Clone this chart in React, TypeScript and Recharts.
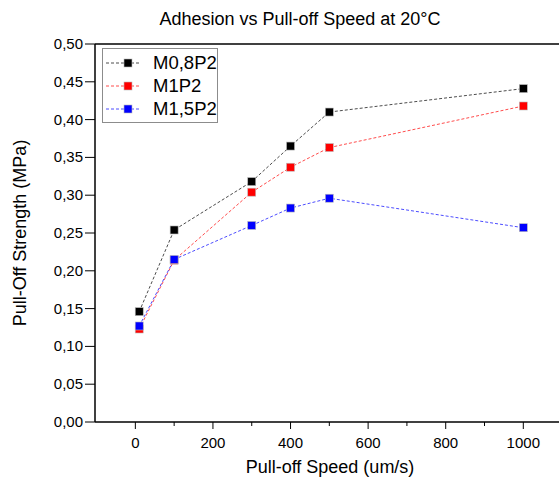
import React from 'react';
import { LineChart, Line, XAxis, YAxis, ReferenceLine } from 'recharts';

const speeds = [10, 100, 300, 400, 500, 1000];
const m08p2 = [0.146, 0.254, 0.318, 0.365, 0.41, 0.441];
const m1p2 = [0.123, 0.214, 0.304, 0.337, 0.363, 0.418];
const m15p2 = [0.127, 0.215, 0.26, 0.283, 0.296, 0.257];

const seriesNames = ['M0,8P2', 'M1P2', 'M1,5P2'];
const seriesKeys = ['m08p2', 'm1p2', 'm15p2'];
const seriesColors = ['#000000', '#ff0000', '#0000ff'];

const xTicks = [0, 100, 200, 300, 400, 500, 600, 700, 800, 900, 1000];
const xMajorTicks = [0, 200, 400, 600, 800, 1000];
const yTicks = [
  0, 0.025, 0.05, 0.075, 0.1, 0.125, 0.15, 0.175, 0.2, 0.225, 0.25,
  0.275, 0.3, 0.325, 0.35, 0.375, 0.4, 0.425, 0.45, 0.475, 0.5,
];
const yMajorTicks = [0, 0.05, 0.1, 0.15, 0.2, 0.25, 0.3, 0.35, 0.4, 0.45, 0.5];

const data = speeds.map((s, i) => ({
  speed: s,
  m08p2: m08p2[i],
  m1p2: m1p2[i],
  m15p2: m15p2[i],
}));

const FONT = '"Liberation Sans", Arial, sans-serif';

const fmtY = (v: number) => v.toFixed(2).replace('.', ',');

function YTick(props: any) {
  const { x, y, payload } = props;
  const major = yMajorTicks.some((t) => Math.abs(t - payload.value) < 1e-6);
  return (
    <g>
      <line x1={x - (major ? 10 : 5)} x2={x} y1={y} y2={y} stroke="#000" strokeWidth={1} />
      {major && (
        <text x={x - 12} y={y + 5} textAnchor="end" fontSize={15} fontFamily={FONT} fill="#000">
          {fmtY(payload.value)}
        </text>
      )}
    </g>
  );
}

function XTick(props: any) {
  const { x, y, payload } = props;
  const major = xMajorTicks.includes(payload.value);
  return (
    <g>
      <line x1={x} x2={x} y1={y} y2={y + (major ? 7 : 4)} stroke="#000" strokeWidth={1} />
      {major && (
        <text x={x} y={y + 26} textAnchor="middle" fontSize={15} fontFamily={FONT} fill="#000">
          {payload.value}
        </text>
      )}
    </g>
  );
}

function SquareDot(color: string) {
  return (props: any) => {
    const { cx, cy, index } = props;
    if (cx == null || cy == null) return null;
    return (
      <rect
        key={index}
        x={cx - 4}
        y={cy - 4}
        width={8}
        height={8}
        fill={color}
        stroke="#bbbbbb"
        strokeWidth={0.6}
      />
    );
  };
}

function LegendBox() {
  return (
    <div
      style={{
        position: 'absolute',
        left: 102,
        top: 48,
        border: '1px solid #8c8c8c',
        background: '#fff',
        width: 114,
        padding: '2px 0',
        fontFamily: FONT,
      }}
    >
      {seriesNames.map((name, i) => (
        <div key={name} style={{ display: 'flex', alignItems: 'center', height: 23 }}>
          <svg width={48} height={12} style={{ marginLeft: 2 }}>
            <line x1={1} x2={35} y1={6} y2={6} stroke={seriesColors[i]} strokeOpacity={0.7} strokeDasharray="3 2" />
            <rect x={19} y={2} width={8} height={8} fill={seriesColors[i]} stroke="#bbbbbb" strokeWidth={0.6} />
          </svg>
          <span style={{ fontSize: 18.5, color: '#000', lineHeight: '18px' }}>{name}</span>
        </div>
      ))}
    </div>
  );
}

export default function App() {
  return (
    <div style={{ position: 'absolute', left: 0, top: 0, width: 559, height: 479, overflow: 'hidden', background: '#fff' }}>
      <div
        style={{
          position: 'absolute',
          top: 9,
          left: 0,
          width: 600,
          textAlign: 'center',
          fontFamily: FONT,
          fontSize: 18,
          color: '#000',
        }}
      >
        Adhesion vs Pull-off Speed at 20°C
      </div>
      <LineChart
        width={559}
        height={479}
        data={data}
        margin={{ top: 44, right: 0, bottom: 0, left: 0 }}
      >
        <XAxis
          dataKey="speed"
          type="number"
          domain={[-104, 1092]}
          ticks={xTicks}
          allowDataOverflow
          height={57}
          tickSize={0}
          tickMargin={0}
          tickLine={false}
          tick={<XTick />}
          axisLine={{ stroke: '#000', strokeWidth: 1.5 }}
          label={{
            value: 'Pull-off Speed (um/s)',
            position: 'insideBottom',
            offset: 6,
            dx: 3,
            style: { fontFamily: FONT, fontSize: 18, fill: '#000', textAnchor: 'middle' },
          }}
        />
        <YAxis
          type="number"
          domain={[0, 0.5]}
          ticks={yTicks}
          width={95}
          tickSize={0}
          tickMargin={0}
          tickLine={false}
          tick={<YTick />}
          axisLine={{ stroke: '#000', strokeWidth: 1.5 }}
          label={{
            value: 'Pull-Off Strength (MPa)',
            angle: -90,
            position: 'insideLeft',
            offset: 20,
            style: { fontFamily: FONT, fontSize: 18, fill: '#000', textAnchor: 'middle' },
          }}
        />
        <ReferenceLine y={0.5} stroke="#000" strokeWidth={1.5} />
        {seriesKeys.map((k, i) => (
          <Line
            key={k}
            dataKey={k}
            name={seriesNames[i]}
            type="linear"
            stroke={seriesColors[i]}
            strokeOpacity={0.7}
            strokeWidth={1}
            strokeDasharray="3 2"
            dot={SquareDot(seriesColors[i])}
            activeDot={false}
            isAnimationActive={false}
          />
        ))}
      </LineChart>
      <LegendBox />
    </div>
  );
}
